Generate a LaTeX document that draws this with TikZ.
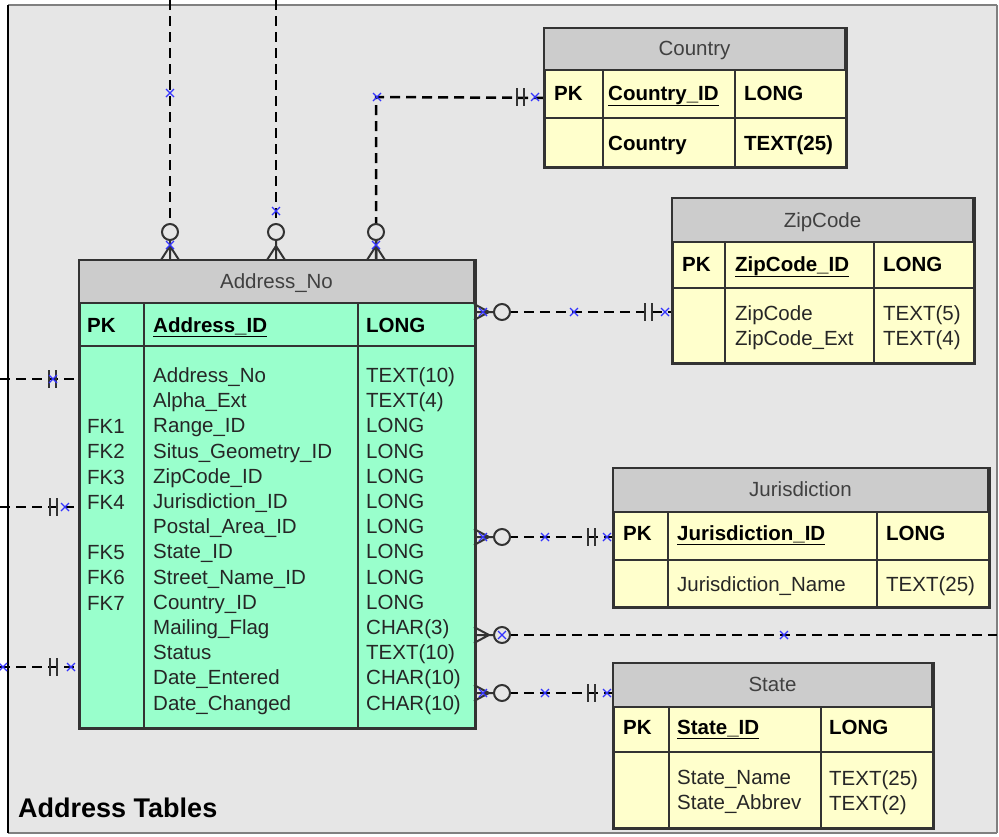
\documentclass[tikz,border=0pt]{standalone}
\usepackage{fontspec}
\setmainfont{Liberation Sans}

\definecolor{bggray}{HTML}{E6E6E6}
\definecolor{hdrgray}{HTML}{CCCCCC}
\definecolor{mint}{HTML}{99FFCC}
\definecolor{paleyel}{HTML}{FFFFCC}
\definecolor{tabline}{HTML}{333333}
\definecolor{xblue}{HTML}{3333FF}

\newcommand{\tabfont}{\fontsize{20.5}{25.2}\selectfont}
% relation end marks
\newcommand{\xmk}[1]{\draw[xmark] (#1) +(-4,-4) -- +(4,4) +(-4,4) -- +(4,-4);}
\newcommand{\crowdn}[1]{\draw[foot] (#1) +(0,-20) -- +(0,0) +(0,-14) -- +(-9,0) +(0,-14) -- +(9,0);}
\newcommand{\crowrt}[1]{\draw[foot] (#1) +(20,0) -- +(0,0) +(15,0) -- +(0,-8) +(15,0) -- +(0,8);}
\newcommand{\ring}[1]{\draw[foot,fill=bggray] (#1) circle (8pt);}
\newcommand{\barsh}[1]{\draw[foot] (#1) +(0,-9) -- +(0,9) +(7,-9) -- +(7,9);}

\begin{document}
\begin{tikzpicture}[x=1pt,y=-1pt,
  rel/.style={line width=2.5pt,dash pattern=on 10pt off 6pt},
  foot/.style={line width=2pt,draw=black!80},
  xmark/.style={draw=xblue,line width=1.2pt},
  tab/.style={anchor=north west,draw=tabline,line width=1.8pt,inner sep=0pt},
  hdr/.style={fill=hdrgray,draw=tabline,line width=1.8pt},
  rule/.style={draw=tabline,line width=1.8pt},
  cell/.style={anchor=base west,inner sep=0pt,font=\tabfont,text=black!85},
  key/.style={cell,font=\tabfont\bfseries,text=black},
  title/.style={anchor=base,inner sep=0pt,font=\tabfont,text=black!75},
  body/.style={anchor=north west,inner sep=0pt,align=left,font=\tabfont,text=black!85,execute at begin node=\strut}]
\useasboundingbox (0,0) rectangle (999,836);
% background
\fill[bggray] (8,5) rectangle (997,833);
\draw[black!50,line width=1.5pt] (8,5) -- (997,5) (997,5) -- (997,833) (8,833) -- (997,833);
\draw[black,line width=1.2pt] (8,5) -- (8,833);

% tables
\node[tab,fill=mint,minimum width=395,minimum height=467] (addr) at (79,260) {};
\node[tab,fill=paleyel,minimum width=301,minimum height=138] (country) at (544,28) {};
\node[tab,fill=paleyel,minimum width=301,minimum height=164] (zip) at (672,198) {};
\node[tab,fill=paleyel,minimum width=375,minimum height=138] (juris) at (613,468) {};
\node[tab,fill=paleyel,minimum width=319,minimum height=164] (state) at (613,663) {};

% connectors
\coordinate (t1) at (170,0);
\coordinate (t2) at (276,0);
\coordinate (k3) at (376,97);
\draw[rel] (t1) -- (t1 |- addr.north);
\draw[rel] (t2) -- (t2 |- addr.north);
\draw[rel] (country.west) -- (k3) -- (k3 |- addr.north);
\coordinate (zy) at (0,312);
\coordinate (jy) at (0,537);
\coordinate (my) at (997,635);
\coordinate (sy) at (0,693);
\draw[rel] (zy -| addr.east) -- (zy -| zip.west);
\draw[rel] (jy -| addr.east) -- (jy -| juris.west);
\draw[rel] (my -| addr.east) -- (my);
\draw[rel] (sy -| addr.east) -- (sy -| state.west);
\coordinate (l1) at (0,379);
\coordinate (l2) at (0,507);
\coordinate (l3) at (0,667);
\draw[rel] (l1) -- (l1 -| addr.west);
\draw[rel] (l2) -- (l2 -| addr.west);
\draw[rel] (l3) -- (l3 -| addr.west);

% Address_No
\draw[hdr] (addr.north west) rectangle (474,303);
\draw[rule] (79,346) -- (474,346) (144,303) -- (144,727) (358,303) -- (358,727);
\draw[tabline,line width=1.8pt] (addr.north west) rectangle (addr.south east);
\node[title] (addrT) at (276.5,288) {Address\_No};
\node[key] (addrPK) at (87,332) {PK};
\node[key] (addrK) at (153,332) {\underline{Address\_ID}};
\node[key] (addrKT) at (366,332) {LONG};
\node[body] (addrFK) at (87,365.5) {\strut\\\strut\\FK1\\FK2\\FK3\\FK4\\\strut\\FK5\\FK6\\FK7};
\node[body] (addrN) at (153,367.5) {Address\_No\\Alpha\_Ext\\Range\_ID\\Situs\_Geometry\_ID\\ZipCode\_ID\\Jurisdiction\_ID\\Postal\_Area\_ID\\State\_ID\\Street\_Name\_ID\\Country\_ID\\Mailing\_Flag\\Status\\Date\_Entered\\Date\_Changed};
\node[body] (addrTy) at (366,367.5) {TEXT(10)\\TEXT(4)\\LONG\\LONG\\LONG\\LONG\\LONG\\LONG\\LONG\\LONG\\CHAR(3)\\TEXT(10)\\CHAR(10)\\CHAR(10)};

% Country
\draw[hdr] (country.north west) rectangle (845,70);
\draw[rule] (544,118) -- (845,118) (603,70) -- (603,166) (735,70) -- (735,166);
\draw[tabline,line width=1.8pt] (country.north west) rectangle (country.south east);
\node[title] (ctyT) at (694.5,55) {Country};
\node[key] (ctyPK) at (554,100) {PK};
\node[key] (ctyK) at (608,100) {\underline{Country\_ID}};
\node[key] (ctyKT) at (744,100) {LONG};
\node[key] (ctyN) at (608,150) {Country};
\node[key] (ctyTy) at (744,150) {TEXT(25)};

% ZipCode
\draw[hdr] (zip.north west) rectangle (973,242);
\draw[rule] (672,288) -- (973,288) (725,242) -- (725,362) (874,242) -- (874,362);
\draw[tabline,line width=1.8pt] (zip.north west) rectangle (zip.south east);
\node[title] (zipT) at (822.5,227) {ZipCode};
\node[key] (zipPK) at (682,271) {PK};
\node[key] (zipK) at (735,271) {\underline{ZipCode\_ID}};
\node[key] (zipKT) at (883,271) {LONG};
\node[body] (zipN) at (735,305.5) {ZipCode\\ZipCode\_Ext};
\node[body] (zipTy) at (883,305.5) {TEXT(5)\\TEXT(4)};

% Jurisdiction
\draw[hdr] (juris.north west) rectangle (988,512);
\draw[rule] (613,560) -- (988,560) (668,512) -- (668,606) (877,512) -- (877,606);
\draw[tabline,line width=1.8pt] (juris.north west) rectangle (juris.south east);
\node[title] (jurT) at (800.5,496) {Jurisdiction};
\node[key] (jurPK) at (623,540) {PK};
\node[key] (jurK) at (677,540) {\underline{Jurisdiction\_ID}};
\node[key] (jurKT) at (886,540) {LONG};
\node[cell] (jurN) at (677,591) {Jurisdiction\_Name};
\node[cell] (jurTy) at (886,591) {TEXT(25)};

% State
\draw[hdr] (state.north west) rectangle (932,707);
\draw[rule] (613,752) -- (932,752) (669,707) -- (669,827) (821,707) -- (821,827);
\draw[tabline,line width=1.8pt] (state.north west) rectangle (state.south east);
\node[title] (stT) at (772.5,691) {State};
\node[key] (stPK) at (623,734) {PK};
\node[key] (stK) at (677,734) {\underline{State\_ID}};
\node[key] (stKT) at (829,734) {LONG};
\node[body] (stN) at (677,770) {State\_Name\\State\_Abbrev};
\node[body] (stTy) at (829,770) {TEXT(25)\\TEXT(2)};

\node[anchor=base west,inner sep=0pt,font=\fontsize{27}{30}\selectfont\bfseries] (caption) at (18,817) {Address Tables};

% end marks
\ring{170,232} \crowdn{170,260}
\ring{276,232} \crowdn{276,260}
\ring{376,232} \crowdn{376,260}
\barsh{517,97}
\crowrt{474,312} \ring{502,312} \barsh{645,312}
\crowrt{474,537} \ring{502,537} \barsh{588,537}
\crowrt{474,635} \ring{502,635}
\crowrt{474,693} \ring{502,693} \barsh{588,693}
\barsh{49,379}
\barsh{50,507}
\barsh{50,667}

\xmk{170,93} \xmk{170,245}
\xmk{276,211}
\xmk{377,97} \xmk{376,245} \xmk{535,97}
\xmk{483,312} \xmk{574,312} \xmk{665,312}
\xmk{483,537} \xmk{545,537} \xmk{607,537}
\xmk{502,635} \xmk{784,635}
\xmk{483,693} \xmk{545,693} \xmk{607,693}
\xmk{53,379}
\xmk{65,507}
\xmk{3,667} \xmk{71,667}
\end{tikzpicture}
\end{document}
